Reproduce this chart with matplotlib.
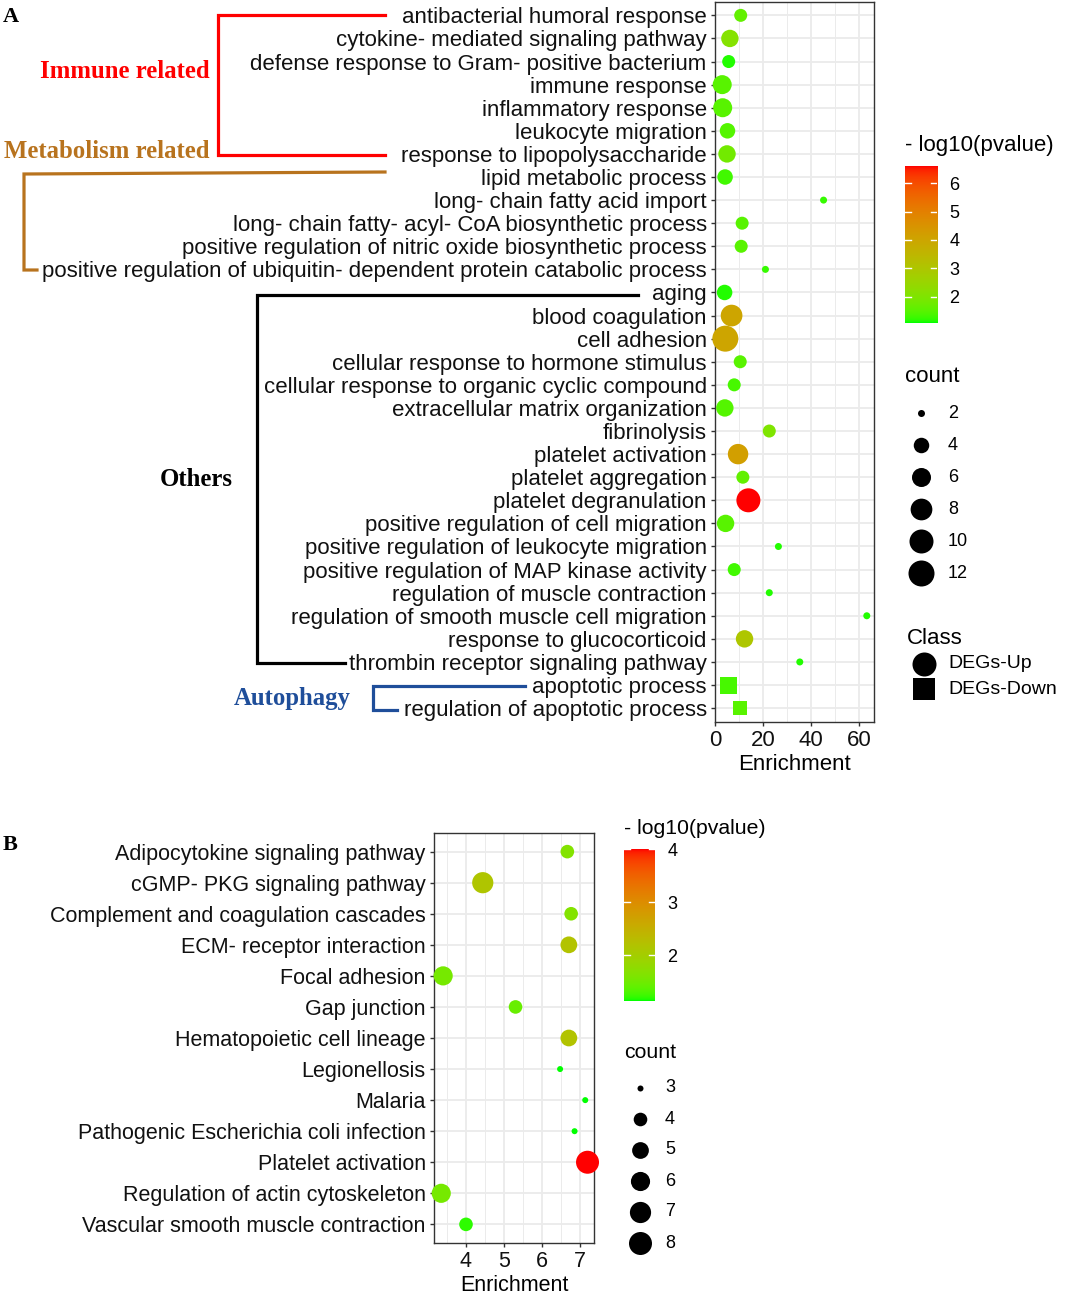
import numpy as np
import matplotlib.pyplot as plt
from matplotlib.colors import ListedColormap, Normalize
from matplotlib.lines import Line2D

plt.rcParams['font.family'] = ['Liberation Sans', 'DejaVu Sans']

# ---- panel A data (GO terms) ----
terms_a = ["antibacterial humoral response",
           "cytokine- mediated signaling pathway",
           "defense response to Gram- positive bacterium",
           "immune response",
           "inflammatory response",
           "leukocyte migration",
           "response to lipopolysaccharide",
           "lipid metabolic process",
           "long- chain fatty acid import",
           "long- chain fatty- acyl- CoA biosynthetic process",
           "positive regulation of nitric oxide biosynthetic process",
           "positive regulation of ubiquitin- dependent protein catabolic process",
           "aging",
           "blood coagulation",
           "cell adhesion",
           "cellular response to hormone stimulus",
           "cellular response to organic cyclic compound",
           "extracellular matrix organization",
           "fibrinolysis",
           "platelet activation",
           "platelet aggregation",
           "platelet degranulation",
           "positive regulation of cell migration",
           "positive regulation of leukocyte migration",
           "positive regulation of MAP kinase activity",
           "regulation of muscle contraction",
           "regulation of smooth muscle cell migration",
           "response to glucocorticoid",
           "thrombin receptor signaling pathway",
           "apoptotic process",
           "regulation of apoptotic process"]
enrich_a = [10.7, 6.2, 5.7, 3.0, 3.2, 5.2, 5.0, 4.2, 45.2, 11.3, 10.9, 21.0, 4.0, 6.9, 4.3,
            10.5, 8.0, 4.1, 22.6, 9.6, 11.6, 13.9, 4.4, 26.4, 8.0, 22.6, 63.2, 12.3, 35.3, 5.7, 10.3]
count_a = [3, 5, 3, 6, 6, 4, 5, 4, 2, 3, 3, 2, 4, 8, 12,
           3, 3, 5, 3, 7, 3, 10, 5, 2, 3, 2, 2, 5, 2, 6, 4]
logp_a = [1.6, 2.1, 1.15, 1.5, 1.5, 1.45, 1.8, 1.3, 1.25, 1.5, 1.5, 1.25, 1.15, 4.0, 4.0,
          1.5, 1.35, 1.45, 2.0, 4.2, 1.6, 6.6, 1.5, 1.15, 1.3, 1.15, 1.15, 3.0, 1.15, 1.35, 1.5]
class_a = ["DEGs-Up"] * 29 + ["DEGs-Down"] * 2

# ---- panel B data (KEGG pathways) ----
terms_b = ["Adipocytokine signaling pathway", "cGMP- PKG signaling pathway",
           "Complement and coagulation cascades", "ECM- receptor interaction",
           "Focal adhesion", "Gap junction", "Hematopoietic cell lineage",
           "Legionellosis", "Malaria", "Pathogenic Escherichia coli infection",
           "Platelet activation", "Regulation of actin cytoskeleton",
           "Vascular smooth muscle contraction"]
enrich_b = [6.66, 4.44, 6.76, 6.70, 3.40, 5.30, 6.70, 6.47, 7.13, 6.85, 7.19, 3.35, 4.00]
count_b = [4, 7, 4, 5, 6, 4, 5, 3, 3, 3, 8, 6, 4]
logp_b = [1.65, 2.15, 1.65, 2.2, 1.55, 1.45, 2.2, 1.15, 1.15, 1.15, 4.0, 1.55, 1.2]


# green -> red gradient interpolated in Lab space (like ggplot)
def to_lab(rgb):
    rgb = np.asarray(rgb, float)
    lin = np.where(rgb <= 0.04045, rgb / 12.92, ((rgb + 0.055) / 1.055) ** 2.4)
    M = np.array([[0.4124, 0.3576, 0.1805], [0.2126, 0.7152, 0.0722], [0.0193, 0.1192, 0.9505]])
    xyz = M @ lin / np.array([0.95047, 1.0, 1.08883])
    f = np.where(xyz > 0.008856, np.cbrt(xyz), 7.787 * xyz + 16 / 116)
    return np.array([116 * f[1] - 16, 500 * (f[0] - f[1]), 200 * (f[1] - f[2])])


def from_lab(lab):
    L, a, b = lab
    fy = (L + 16) / 116
    fx = fy + a / 500
    fz = fy - b / 200
    f = np.array([fx, fy, fz])
    xyz = np.where(f ** 3 > 0.008856, f ** 3, (f - 16 / 116) / 7.787) * np.array([0.95047, 1.0, 1.08883])
    Minv = np.linalg.inv(np.array([[0.4124, 0.3576, 0.1805], [0.2126, 0.7152, 0.0722], [0.0193, 0.1192, 0.9505]]))
    lin = np.clip(Minv @ xyz, 0, 1)
    rgb = np.where(lin <= 0.0031308, 12.92 * lin, 1.055 * lin ** (1 / 2.4) - 0.055)
    return np.clip(rgb, 0, 1)


lo, hi = to_lab([0, 1, 0]), to_lab([1, 0, 0])
cmap = ListedColormap([from_lab(lo + (hi - lo) * t) for t in np.linspace(0, 1, 256)])

W, H = 1065, 1294
fig = plt.figure(figsize=(W / 100, H / 100), dpi=100)


def px_axes(l, t, r, b):
    return fig.add_axes([l / W, 1 - b / H, (r - l) / W, (b - t) / H])


def diam(c, cmin, cmax, dmin, dmax):
    c = np.asarray(c, float)
    return dmin + (dmax - dmin) * np.sqrt((c - cmin) / (cmax - cmin))


def area(d_px):
    return (np.asarray(d_px) * 0.72) ** 2


def style_axes(ax, fs):
    ax.set_facecolor('white')
    ax.grid(True, which='major', color='#EBEBEB', lw=1.3, zorder=0)
    ax.grid(True, which='minor', axis='x', color='#EBEBEB', lw=0.7, zorder=0)
    ax.set_axisbelow(True)
    for s in ax.spines.values():
        s.set_color('#333333')
        s.set_linewidth(1.0)
    ax.tick_params(which='major', length=3, width=1, color='#333333', labelsize=fs, labelcolor='#111111', pad=3)
    ax.tick_params(which='minor', length=0)
    ax.set_xlabel('Enrichment', fontsize=fs, color='black', labelpad=2)


# ---- panel A ----
normA = Normalize(1.08, 6.6)
axA = px_axes(715, 1.5, 874, 722)
ya = np.arange(len(terms_a))
ea, ca, pa = np.array(enrich_a), np.array(count_a), np.array(logp_a)
dA = diam(ca, 2, 12, 7, 26)
for cls, mk, k in (("DEGs-Up", 'o', 1.0), ("DEGs-Down", 's', 0.8)):
    m = np.array(class_a) == cls
    axA.scatter(ea[m], ya[m], s=area(dA[m]) * k, c=pa[m], cmap=cmap, norm=normA,
                marker=mk, linewidths=0, zorder=3, clip_on=False)
axA.set_xlim(0, 66.2)
axA.set_ylim(len(terms_a) - 0.4, -0.6)
axA.set_yticks(ya)
axA.set_yticklabels(terms_a)
axA.set_xticks([0, 20, 40, 60])
axA.set_xticks([10, 30, 50], minor=True)
style_axes(axA, 16)

# ---- panel B ----
normB = Normalize(1.14, 4.0)
axB = px_axes(434, 833, 594, 1243)
yb = np.arange(len(terms_b))
dB = diam(count_b, 3, 8, 6, 23)
axB.scatter(enrich_b, yb, s=area(dB), c=logp_b, cmap=cmap, norm=normB,
            marker='o', linewidths=0, zorder=3, clip_on=False)
axB.set_xlim(3.16, 7.36)
axB.set_ylim(len(terms_b) - 0.4, -0.6)
axB.set_yticks(yb)
axB.set_yticklabels(terms_b)
axB.set_xticks([4, 5, 6, 7])
axB.set_xticks([3.5, 4.5, 5.5, 6.5], minor=True)
style_axes(axB, 15.5)


# ---- colour bars ----
def colorbar(l, t, r, b, norm, ticks, fs):
    cax = px_axes(l, t, r, b)
    grad = np.linspace(norm.vmin, norm.vmax, 256).reshape(-1, 1)
    cax.imshow(grad, aspect='auto', cmap=cmap, norm=norm, origin='lower',
               extent=[0, 1, norm.vmin, norm.vmax])
    cax.set_xlim(0, 1)
    cax.set_ylim(norm.vmin, norm.vmax)
    for t_ in ticks:
        cax.plot([0, 0.2], [t_, t_], color='white', lw=1)
        cax.plot([0.8, 1], [t_, t_], color='white', lw=1)
    cax.set_xticks([])
    cax.yaxis.tick_right()
    cax.set_yticks(ticks)
    cax.set_yticklabels([str(t_) for t_ in ticks])
    cax.tick_params(length=0, labelsize=fs, pad=9)
    for s in cax.spines.values():
        s.set_visible(False)


colorbar(905, 166, 937, 323, normA, [2, 3, 4, 5, 6], 13)
colorbar(624, 849, 655, 1001, normB, [2, 3, 4], 13)

# ---- overlay in pixel coordinates: legends, brackets, labels ----
ov = fig.add_axes([0, 0, 1, 1], zorder=-1)
ov.set_xlim(0, W)
ov.set_ylim(H, 0)
ov.set_axis_off()

ov.text(905, 145, '- log10(pvalue)', fontsize=16, va='center')
ov.text(905, 377, 'count', fontsize=16, va='center')
brk_a = [2, 4, 6, 8, 10, 12]
for i, c in enumerate(brk_a):
    yy = 413 + 32 * i
    ov.scatter([921], [yy], s=area(diam(c, 2, 12, 7, 26)), color='black', linewidths=0)
    ov.text(948, yy, str(c), fontsize=13, va='center')
ov.text(907, 638, 'Class', fontsize=16, va='center')
ov.scatter([924], [664], s=area(24), color='black', marker='o', linewidths=0)
ov.scatter([924], [689], s=area(24) * 0.8, color='black', marker='s', linewidths=0)
ov.text(948, 664, 'DEGs-Up', fontsize=14, va='center')
ov.text(948, 689, 'DEGs-Down', fontsize=14, va='center')

ov.text(624, 829, '- log10(pvalue)', fontsize=15.3, va='center')
ov.text(624, 1053, 'count', fontsize=15.3, va='center')
brk_b = [3, 4, 5, 6, 7, 8]
for i, c in enumerate(brk_b):
    yy = 1088 + 31 * i
    ov.scatter([640], [yy], s=area(diam(c, 3, 8, 6, 23)), color='black', linewidths=0)
    ov.text(665, yy, str(c), fontsize=13, va='center')

# group brackets
red, brown, blue = '#FF0000', '#B8731E', '#1F4E9A'
brackets = [
    ([385, 218, 218, 385], [15, 15, 155, 155], red),
    ([385, 24, 24, 37], [172, 174, 270, 270], brown),
    ([638, 257, 257, 345], [295, 295, 663, 663], 'black'),
    ([525, 373, 373, 397], [686, 686, 710, 710], blue),
]
for xs, ys, col in brackets:
    ov.add_line(Line2D(xs, ys, color=col, lw=2.3, solid_joinstyle='miter'))

serif = ['Liberation Serif', 'DejaVu Serif']
ov.text(210, 71, 'Immune related', color=red, fontsize=17.8, fontweight='bold',
        family=serif, ha='right', va='center')
ov.text(209, 152, 'Metabolism related', color=brown, fontsize=17.8, fontweight='bold',
        family=serif, ha='right', va='center')
ov.text(233, 480, 'Others', color='black', fontsize=17.8, fontweight='bold',
        family=serif, ha='right', va='center')
ov.text(351, 698, 'Autophagy', color=blue, fontsize=17.8, fontweight='bold',
        family=serif, ha='right', va='center')
ov.text(3, 17, 'A', fontsize=16, fontweight='bold', family=serif, va='center')
ov.text(3, 845, 'B', fontsize=16, fontweight='bold', family=serif, va='center')

fig.savefig('out.png', dpi=100)
